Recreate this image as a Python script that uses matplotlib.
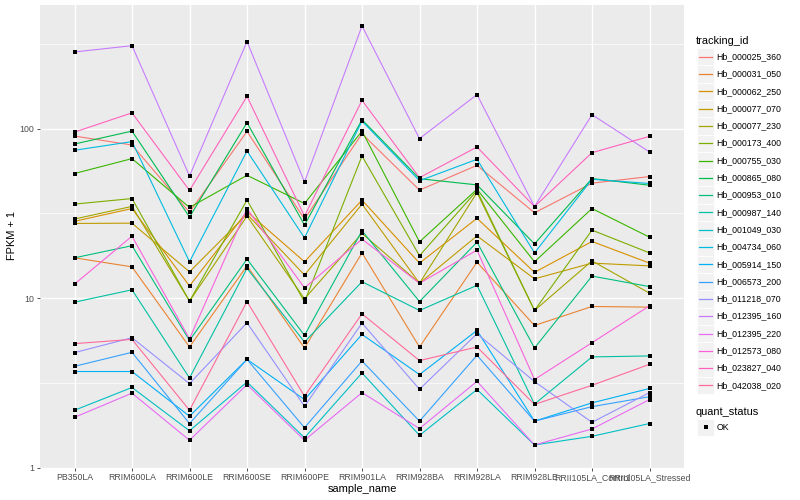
import math

import matplotlib

matplotlib.use("Agg")
import matplotlib.pyplot as plt
import numpy as np
from matplotlib.patches import Rectangle

plt.rcParams["font.family"] = ["Liberation Sans", "DejaVu Sans"]

samples = ["PB350LA", "RRIM600LA", "RRIM600LE", "RRIM600SE", "RRIM600PE", "RRIM901LA",
           "RRIM928BA", "RRIM928LA", "RRIM928LE", "RRII105LA_Control", "RRII105LA_Stressed"]

tracking_ids = ["Hb_000025_360", "Hb_000031_050", "Hb_000062_250", "Hb_000077_070",
                "Hb_000077_230", "Hb_000173_400", "Hb_000755_030", "Hb_000865_080",
                "Hb_000953_010", "Hb_000987_140", "Hb_001049_030", "Hb_004734_060",
                "Hb_005914_150", "Hb_006573_200", "Hb_011218_070", "Hb_012395_160",
                "Hb_012395_220", "Hb_012573_080", "Hb_023827_040", "Hb_042038_020"]

# FPKM + 1, one list per tracking_id, in sample order
hb_000025_360 = [90.5, 80.1, 32.1, 96.4, 29.3, 93.4, 43.4, 60.8, 31.9, 47.7, 52.2]
hb_000031_050 = [17.3, 15.3, 5.15, 15.5, 5.08, 18.5, 5.15, 16.3, 6.90, 8.93, 8.85]
hb_000062_250 = [28.4, 33.8, 11.8, 32.4, 16.4, 37.9, 16.1, 29.6, 14.2, 21.6, 16.1]
hb_000077_070 = [27.6, 27.7, 14.3, 31.3, 13.7, 35.9, 12.25, 23.3, 13.0, 16.1, 15.5]
hb_000077_230 = [29.3, 34.8, 9.60, 30.5, 9.91, 24.1, 12.25, 42.0, 8.46, 16.6, 10.7]
hb_000173_400 = [35.9, 38.7, 9.60, 37.9, 9.51, 69.0, 17.8, 43.1, 8.46, 25.2, 18.5]
hb_000755_030 = [54.4, 66.6, 34.3, 53.1, 36.2, 96.8, 21.5, 43.9, 16.4, 33.8, 22.9]
hb_000865_080 = [81.2, 96.8, 30.1, 108.5, 27.0, 113.0, 50.7, 46.6, 20.9, 50.8, 46.4]
hb_000953_010 = [17.3, 20.4, 5.63, 17.0, 6.03, 25.0, 9.55, 21.4, 5.08, 13.5, 11.7]
hb_000987_140 = [9.47, 11.2, 3.38, 15.0, 5.51, 12.5, 8.46, 11.9, 2.37, 4.50, 4.56]
hb_001049_030 = [2.18, 2.97, 1.65, 3.20, 1.50, 3.62, 1.55, 2.89, 1.36, 1.53, 1.82]
hb_004734_060 = [74.6, 83.9, 16.4, 73.8, 22.7, 111.0, 49.3, 66.0, 18.5, 50.3, 47.5]
hb_005914_150 = [3.69, 3.69, 2.01, 4.35, 2.52, 6.11, 3.54, 6.45, 1.88, 2.41, 2.93]
hb_006573_200 = [3.96, 4.79, 1.82, 4.35, 1.72, 4.26, 1.88, 4.60, 1.88, 2.29, 2.62]
hb_011218_070 = [4.77, 5.84, 3.13, 7.16, 2.30, 7.13, 2.90, 6.17, 3.22, 1.85, 2.77]
hb_012395_160 = [283.7, 309.0, 52.6, 327.0, 48.5, 404.0, 87.4, 159.0, 34.7, 121.0, 72.9]
hb_012395_220 = [1.98, 2.75, 1.45, 3.09, 1.45, 2.77, 1.70, 3.23, 1.36, 1.69, 2.52]
hb_012573_080 = [12.1, 23.2, 5.76, 33.7, 11.5, 22.3, 12.25, 19.2, 3.31, 5.46, 9.01]
hb_023827_040 = [95.5, 124.0, 43.2, 155.0, 30.5, 147.0, 51.4, 78.0, 34.7, 72.2, 90.1]
hb_042038_020 = [5.39, 5.71, 2.18, 9.55, 2.64, 8.08, 4.28, 5.15, 2.36, 3.06, 4.07]

series = [hb_000025_360, hb_000031_050, hb_000062_250, hb_000077_070, hb_000077_230,
          hb_000173_400, hb_000755_030, hb_000865_080, hb_000953_010, hb_000987_140,
          hb_001049_030, hb_004734_060, hb_005914_150, hb_006573_200, hb_011218_070,
          hb_012395_160, hb_012395_220, hb_012573_080, hb_023827_040, hb_042038_020]


def hcl_to_rgb(h, c=100.0, l=65.0):
    """R の hcl() 相当 (polarLUV -> sRGB)"""
    wy, wu, wv = 100.0, 0.1978398, 0.4683363
    hr = math.radians(h)
    U, V = c * math.cos(hr), c * math.sin(hr)
    Y = wy * (((l + 16) / 116) ** 3 if l > 7.999592 else l / 903.3)
    u = U / (13 * l) + wu
    v = V / (13 * l) + wv
    X = 9.0 * Y * u / (4 * v)
    Z = -X / 3 - 5 * Y + 3 * Y / v

    def gt(x):
        return 1.055 * x ** (1 / 2.4) - 0.055 if x > 0.00304 else 12.92 * x

    r = gt((3.240479 * X - 1.537150 * Y - 0.498535 * Z) / wy)
    g = gt((-0.969256 * X + 1.875992 * Y + 0.041556 * Z) / wy)
    b = gt((0.055648 * X - 0.204043 * Y + 1.057311 * Z) / wy)
    return tuple(min(1.0, max(0.0, x)) for x in (r, g, b))


n = len(tracking_ids)
hues = np.linspace(15, 375, n + 1)[:n]
colors = [hcl_to_rgb(h) for h in hues]

fig = plt.figure(figsize=(8, 5), dpi=100)
ax = fig.add_axes([40 / 800, 1 - 467.6 / 500, 644 / 800, (467.6 - 5) / 500])
ax.set_facecolor("#EBEBEB")

xs = np.arange(len(samples))
for vals, col in zip(series, colors):
    ax.plot(xs, vals, "-", color=col, lw=0.8, zorder=2)
for vals in series:
    ax.plot(xs, vals, "s", color="black", ms=2.7, mew=0, zorder=3, lw=0)

ax.set_yscale("log")
allv = np.log10(np.concatenate([np.array(s) for s in series]))
span = allv.max() - allv.min()
ax.set_ylim(10 ** (allv.min() - 0.05 * span), 10 ** (allv.max() + 0.05 * span))
ax.set_xlim(-0.6, len(samples) - 0.4)

ax.set_yticks([1, 10, 100])
ax.set_yticklabels(["1", "10", "100"])
ax.set_yticks([10 ** 0.5, 10 ** 1.5, 10 ** 2.5], minor=True)
ax.set_yticklabels([], minor=True)
ax.set_xticks(xs)
ax.set_xticklabels(samples)

ax.grid(True, which="major", color="white", lw=1.0, zorder=0)
ax.grid(True, which="minor", axis="y", color="white", lw=0.5, zorder=0)
ax.set_axisbelow(True)
for sp in ax.spines.values():
    sp.set_visible(False)
ax.tick_params(which="major", length=2, width=0.6, color="#333333",
               labelcolor="#4D4D4D", labelsize=6.3, pad=2)
ax.tick_params(which="minor", length=0)

fig.text(362 / 800, 1 - 489 / 500, "sample_name", ha="center", va="center", fontsize=7.9)
fig.text(12 / 800, 1 - 236 / 500, "FPKM + 1", ha="center", va="center",
         rotation=90, fontsize=7.9)

# 凡例 (ggplot 風, ピクセル座標で配置)
lax = fig.add_axes([0, 0, 1, 1], zorder=5)
lax.set_xlim(0, 800)
lax.set_ylim(500, 0)
lax.axis("off")
lax.text(696, 40.7, "tracking_id", va="center", ha="left", fontsize=7.9)
for i, (tid, col) in enumerate(zip(tracking_ids, colors)):
    yc = 56.7 + 17.3 * i
    lax.add_patch(Rectangle((697, yc - 8.65), 17.3, 17.3, fc="#F2F2F2", ec="white", lw=0.6))
    lax.plot([699, 712], [yc, yc], color=col, lw=0.9)
    lax.text(716.7, yc, tid, va="center", ha="left", fontsize=6.3)

lax.text(696, 411.7, "quant_status", va="center", ha="left", fontsize=7.9)
lax.add_patch(Rectangle((697, 427.3 - 8.65), 17.3, 17.3, fc="#F2F2F2", ec="white", lw=0.6))
lax.plot([705.6], [427.3], "s", color="black", ms=2.7, mew=0)
lax.text(716.7, 427.3, "OK", va="center", ha="left", fontsize=6.3)

fig.savefig("out.png", dpi=100)
